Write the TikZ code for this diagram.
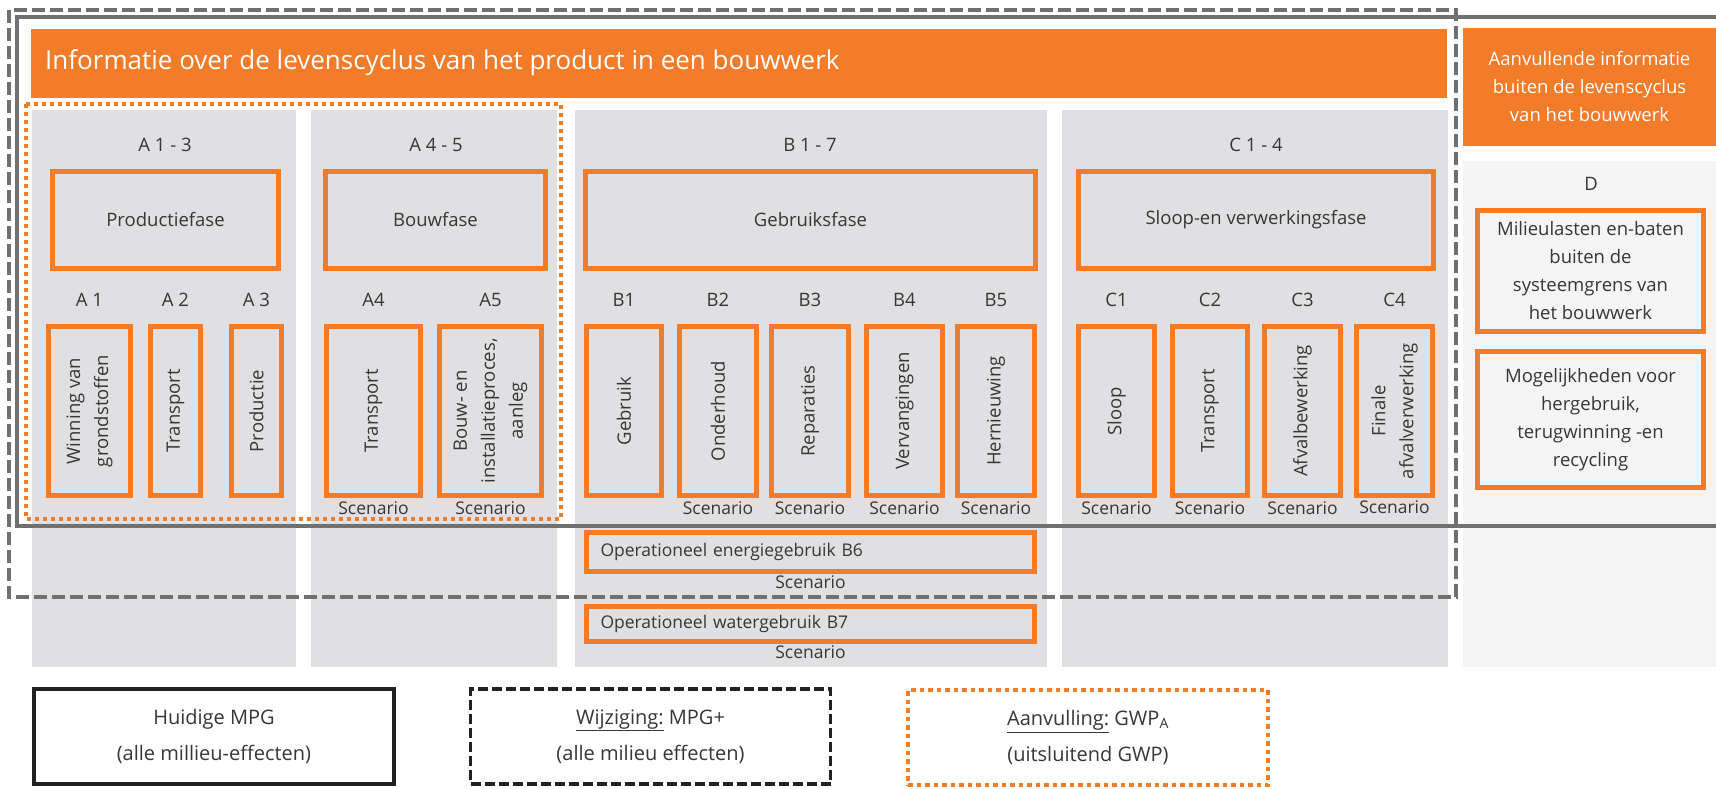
\documentclass[tikz,border=0pt]{standalone}
\usepackage{fontspec}
\setmainfont{Open Sans}
\usepackage{tikz}

\definecolor{mpgorange}{RGB}{243,124,42}
\definecolor{panelgray}{RGB}{224,224,226}
\definecolor{dpanel}{RGB}{245,245,245}
\definecolor{linegray}{RGB}{112,112,112}
\definecolor{txtgray}{RGB}{55,55,55}
\definecolor{legblack}{RGB}{34,34,34}
\newcommand{\lbfont}{\fontsize{18.5}{28}\selectfont}
\newcommand{\smfont}{\fontsize{17.5}{26}\selectfont}
\newcommand{\ttlfont}{\fontsize{26}{30}\selectfont}
\newcommand{\lgfont}{\fontsize{20}{36}\selectfont}

\begin{document}
\begin{tikzpicture}[x=1pt,y=-1pt,
    obox/.style={draw=mpgorange,line width=5pt,inner sep=0pt,align=center,font=\lbfont,text=txtgray},
    vbox/.style={obox,rotate=90,minimum width=169pt},
    lbl/.style={font=\lbfont,text=txtgray,inner sep=0pt,anchor=base},
    scen/.style={font=\smfont,text=txtgray,inner sep=0pt,anchor=base},
    legbox/.style={minimum width=360pt,minimum height=95pt,align=center,font=\lgfont,text=txtgray}]
    \useasboundingbox (0,0) rectangle (1716,789);
    \fill[white] (0,0) rectangle (1716,789);
    % panels
    \fill[panelgray] (32,110) rectangle (296,667);
    \fill[panelgray] (311,110) rectangle (557,667);
    \fill[panelgray] (575,110) rectangle (1047,667);
    \fill[panelgray] (1062,110) rectangle (1448,667);
    \fill[dpanel] (1463,161) rectangle (1716,667);
    % headers
    \fill[mpgorange] (31,29) rectangle (1447,98);
    \node[font=\ttlfont,text=white,inner sep=0pt,anchor=base west] (title) at (45,70)
        {Informatie over de levenscyclus van het product in een bouwwerk};
    \node[fill=mpgorange,minimum width=253pt,minimum height=118pt,inner sep=0pt,
        align=center,font=\lbfont,text=white] (extra) at (1589.5,87)
        {Aanvullende informatie\\buiten de levenscyclus\\van het bouwwerk};
    % stages
    \node[lbl] (a13) at (165,152) {A 1 - 3};
    \node[lbl] (a45) at (436,152) {A 4 - 5};
    \node[lbl] (b17) at (810,152) {B 1 - 7};
    \node[lbl] (c14) at (1256,152) {C 1 - 4};
    \node[obox,minimum width=226pt,minimum height=97pt] (prod) at (165.5,220) {Productiefase};
    \node[obox,minimum width=220pt,minimum height=97pt] (bouw) at (435.5,220) {Bouwfase};
    \node[obox,minimum width=450pt,minimum height=97pt] (gebr) at (810.5,220) {Gebruiksfase};
    \node[obox,minimum width=355pt,minimum height=97pt] (sloop) at (1256,220) {Sloop-en verwerkingsfase};
    % col a
    \node[lbl] (la1) at (89.5,306) {A 1};
    \node[lbl] (la2) at (175.5,306) {A 2};
    \node[lbl] (la3) at (256.5,306) {A 3};
    \node[lbl] (la4) at (373.5,306) {A4};
    \node[lbl] (la5) at (490.5,306) {A5};
    \node[vbox,minimum height=82pt] (a1) at (89.5,411) {Winning van\\grondstoffen};
    \node[vbox,minimum height=50pt] (a2) at (175.5,411) {Transport};
    \node[vbox,minimum height=50pt] (a3) at (256.5,411) {Productie};
    \node[vbox,minimum height=94pt] (a4) at (373.5,411) {Transport};
    \node[vbox,minimum height=102pt] (a5) at (490.5,411) {Bouw- en\\installatieproces,\\aanleg};
    \node[scen] (sa4) at (373.5,514) {Scenario};
    \node[scen] (sa5) at (490.5,514) {Scenario};
    % col b
    \node[lbl] (lb1) at (624,306) {B1};
    \node[lbl] (lb2) at (718,306) {B2};
    \node[lbl] (lb3) at (810,306) {B3};
    \node[lbl] (lb4) at (904.5,306) {B4};
    \node[lbl] (lb5) at (996,306) {B5};
    \node[vbox,minimum height=75pt] (b1) at (624,411) {Gebruik};
    \node[vbox,minimum height=77pt] (b2) at (718,411) {Onderhoud};
    \node[vbox,minimum height=77pt] (b3) at (810,411) {Reparaties};
    \node[vbox,minimum height=76pt] (b4) at (904.5,411) {Vervangingen};
    \node[vbox,minimum height=77pt] (b5) at (996,411) {Hernieuwing};
    \node[scen] (sb2) at (718,514) {Scenario};
    \node[scen] (sb3) at (810,514) {Scenario};
    \node[scen] (sb4) at (904.5,514) {Scenario};
    \node[scen] (sb5) at (996,514) {Scenario};
    \node[obox,font=\smfont,minimum height=39pt,text width=420pt,inner xsep=14pt,align=left]
        (b6) at (810.5,552) {Operationeel energiegebruik B6};
    \node[scen] (sb6) at (810.5,588) {Scenario};
    \node[obox,font=\smfont,minimum height=35pt,text width=420pt,inner xsep=14pt,align=left]
        (b7) at (810.5,624) {Operationeel watergebruik B7};
    \node[scen] (sb7) at (810.5,658) {Scenario};
    % col c
    \node[lbl] (lc1) at (1116.5,306) {C1};
    \node[lbl] (lc2) at (1210,306) {C2};
    \node[lbl] (lc3) at (1302.5,306) {C3};
    \node[lbl] (lc4) at (1394.5,306) {C4};
    \node[vbox,minimum height=76pt] (c1) at (1116.5,411) {Sloop};
    \node[vbox,minimum height=75pt] (c2) at (1210,411) {Transport};
    \node[vbox,minimum height=76pt] (c3) at (1302.5,411) {Afvalbewerking};
    \node[vbox,minimum height=76pt] (c4) at (1394.5,411) {Finale\\afvalverwerking};
    \node[scen] (sc1) at (1116.5,514) {Scenario};
    \node[scen] (sc2) at (1210,514) {Scenario};
    \node[scen] (sc3) at (1302.5,514) {Scenario};
    \node[scen] (sc4) at (1394.5,513) {Scenario};
    % col d
    \node[lbl] (ld) at (1591,190) {D};
    \node[obox,minimum width=226pt,minimum height=121pt] (mil) at (1590.5,271)
        {Milieulasten en-baten\\buiten de\\systeemgrens van\\het bouwwerk};
    \node[obox,minimum width=226pt,minimum height=136pt] (mog) at (1590.5,419.5)
        {Mogelijkheden voor\\hergebruik,\\terugwinning -en\\recycling};
    % frames
    \draw[linegray,line width=3.5pt] (1730,17) -- (17,17) -- (17,526) -- (1730,526);
    \draw[linegray,line width=4pt,dash pattern=on 13pt off 5pt] (9,10) rectangle (1456,597);
    \draw[mpgorange,line width=4pt,dash pattern=on 4pt off 4pt] (26,104) rectangle (561,519);
    % legend
    \node[legbox,draw=legblack,line width=4pt] (cur) at (214,736.5)
        {Huidige MPG\\(alle millieu-effecten)};
    \node[legbox,draw=legblack,line width=3.5pt,dash pattern=on 10pt off 4pt] (chg) at (650.5,736.5)
        {\underline{Wijziging:} MPG+\\(alle milieu effecten)};
    \node[legbox,draw=mpgorange,line width=4pt,dash pattern=on 4.5pt off 4pt] (add) at (1088,737.5)
        {\underline{Aanvulling:} GWP\textsubscript{A}\\(uitsluitend GWP)};
\end{tikzpicture}
\end{document}
